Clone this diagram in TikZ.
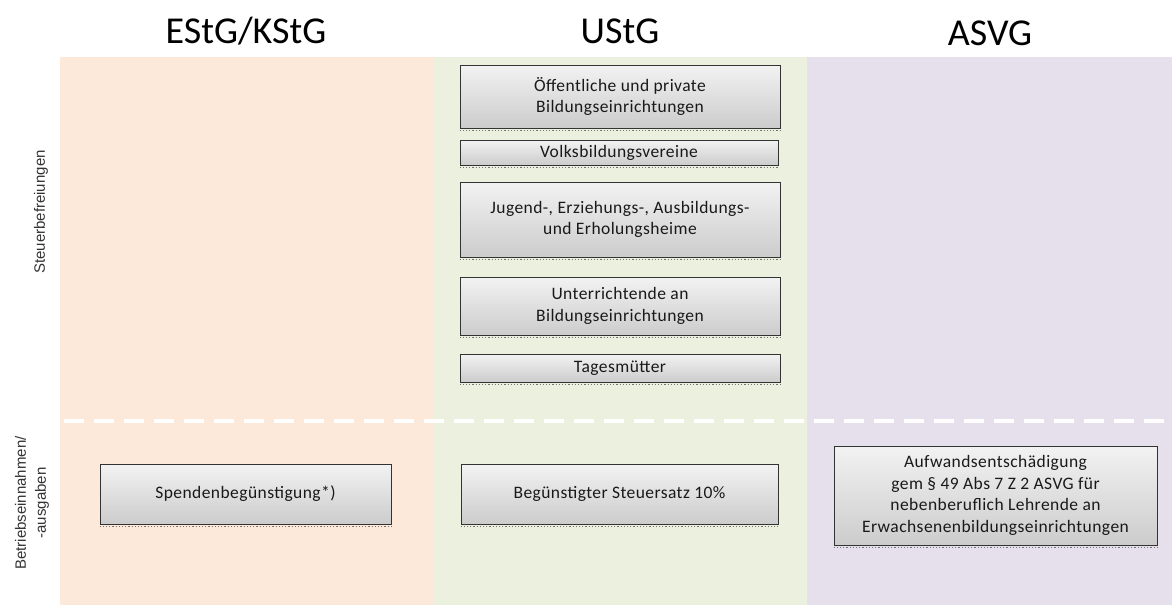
\documentclass[tikz,border=0pt]{standalone}
\usepackage{fontspec}
\setmainfont{Carlito}
\newfontfamily\boxfont[LetterSpace=2.5]{Carlito}
\newfontfamily\sidefont{Liberation Sans}
\definecolor{peach}{HTML}{FDE9D9}
\definecolor{olivebg}{HTML}{EBF1DE}
\definecolor{lilac}{HTML}{E5E0EC}
\begin{document}
\begin{tikzpicture}[x=1pt,y=-1pt,
  title/.style={font=\fontsize{38}{42}\selectfont, inner sep=0pt},
  side/.style={rotate=90, align=center, font=\sidefont\fontsize{15}{20}\selectfont, text=black!80, inner sep=0pt},
  boxst/.style={draw=black!80, line width=0.8pt, top color=gray!10, bottom color=gray!40,
    align=center, inner sep=0pt, font=\boxfont\fontsize{17.5}{21.5}\selectfont, text=black!90},
  shadowline/.style={dotted, line width=1.2pt, black!55}
]
\useasboundingbox (0,0) rectangle (1172,605);
\fill[white] (0,0) rectangle (1172,605);
\fill[peach] (60,57) rectangle (433,605);
\fill[olivebg] (433,57) rectangle (807,605);
\fill[lilac] (807,57) rectangle (1172,605);
\coordinate (dl) at (64,421);
\coordinate (dr) at (1172,421);
\draw[white, line width=4pt, dash pattern=on 20pt off 10pt] (dl) -- (dr);

\node[title] (t1) at (246,31) {EStG/KStG};
\node[title] (t2) at (620,31) {UStG};
\node[title] (t3) at (990,33) {ASVG};

\node[side] (s1) at (41,212) {Steuerbefreiungen};
\node[side] (s2) at (32,503) {Betriebseinnahmen/\\-ausgaben};

\node[boxst, minimum width=320pt, minimum height=63pt] (b1) at (620,96.5) {Öffentliche und private\\Bildungseinrichtungen};
\node[boxst, minimum width=318pt, minimum height=25pt] (b2) at (619,152.5) {Volksbildungsvereine};
\node[boxst, minimum width=320pt, minimum height=75pt] (b3) at (620,219.5) {Jugend-, Erziehungs-, Ausbildungs-\\und Erholungsheime};
\node[boxst, minimum width=320pt, minimum height=58pt] (b4) at (620,306) {Unterrichtende an\\Bildungseinrichtungen};
\node[boxst, minimum width=320pt, minimum height=28pt] (b5) at (620,368) {Tagesmütter};
\node[boxst, minimum width=291pt, minimum height=60pt] (b6) at (245.5,494) {Spendenbegünstigung*)};
\node[boxst, minimum width=317pt, minimum height=60pt] (b7) at (619.5,494) {Begünstigter Steuersatz 10\%};
\node[boxst, minimum width=323pt, minimum height=99pt] (b8) at (995.5,495.5) {Aufwandsentschädigung\\gem § 49 Abs 7 Z 2 ASVG für\\nebenberuflich Lehrende an\\Erwachsenenbildungseinrichtungen};

\foreach \b in {b1,b2,b3,b4,b5,b6,b7,b8}{
  \draw[shadowline] ([yshift=-2pt]\b.south west) -- ([yshift=-2pt]\b.south east);
}
\end{tikzpicture}
\end{document}
